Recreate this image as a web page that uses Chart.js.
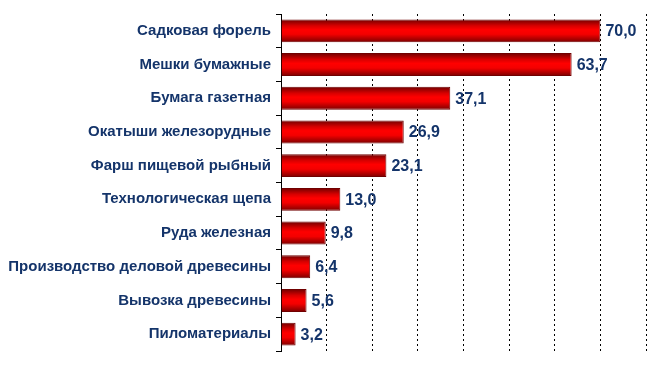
<!DOCTYPE html>
<html>
<head>
<meta charset="utf-8">
<script src="https://cdn.jsdelivr.net/npm/chart.js@4.4.0/dist/chart.umd.min.js"></script>
<style>
  html, body { margin: 0; padding: 0; background: #fff; }
  #wrap { width: 661px; height: 365px; }
</style>
</head>
<body>
<div id="wrap"><canvas id="chart-bars"></canvas></div>
<script>
const categories = [
  "Садковая форель",
  "Мешки бумажные",
  "Бумага газетная",
  "Окатыши железорудные",
  "Фарш пищевой рыбный",
  "Технологическая щепа",
  "Руда железная",
  "Производство деловой древесины",
  "Вывозка древесины",
  "Пиломатериалы",
];
const values = [70.0, 63.7, 37.1, 26.9, 23.1, 13.0, 9.8, 6.4, 5.6, 3.2];
const xMin = 0;
const xMax = 80;
const xStep = 10;

const navy = "#14346a";

// cylinder-like vertical gradient on each bar
const barShade = {
  id: "barShade",
  beforeDatasetsDraw(chart) {
    const ctx = chart.ctx;
    chart.getDatasetMeta(0).data.forEach((bar) => {
      const top = bar.y - bar.height / 2;
      const g = ctx.createLinearGradient(0, top, 0, top + bar.height);
      g.addColorStop(0, "#6e0000");
      g.addColorStop(0.28, "#d80000");
      g.addColorStop(0.45, "#ff0000");
      g.addColorStop(0.65, "#f40000");
      g.addColorStop(1, "#7a0000");
      bar.options.backgroundColor = g;
    });
  },
};

// value labels at the bar ends
const valueLabels = {
  id: "valueLabels",
  afterDatasetsDraw(chart) {
    const ctx = chart.ctx;
    ctx.save();
    ctx.font = "bold 16px 'Liberation Sans', Arial, sans-serif";
    ctx.fillStyle = navy;
    ctx.textAlign = "left";
    ctx.textBaseline = "middle";
    chart.getDatasetMeta(0).data.forEach((bar, i) => {
      ctx.fillText(values[i].toFixed(1).replace(".", ","), bar.x + 5, bar.y + 1);
    });
    ctx.restore();
  },
};

const ctx = document.getElementById("chart-bars").getContext("2d");
const myChart = new Chart(ctx, {
  type: "bar",
  data: {
    labels: categories,
    datasets: [
      {
        data: values,
        // scriptable so each bar keeps its own options object
        backgroundColor: () => "#e00000",
        borderColor: "#700000",
        borderWidth: 1,
        borderSkipped: "start",
        categoryPercentage: 1,
        barPercentage: 0.68,
      },
    ],
  },
  options: {
    indexAxis: "y",
    responsive: true,
    maintainAspectRatio: false,
    animation: false,
    layout: { padding: { left: 0, right: 15, top: 12, bottom: 12 } },
    plugins: {
      legend: { display: false },
      tooltip: { enabled: false },
    },
    scales: {
      x: {
        min: xMin,
        max: xMax,
        ticks: { display: false, stepSize: xStep },
        grid: {
          color: (c) => (c.tick && c.tick.value === 0 ? "rgba(0,0,0,0)" : "#000"),
          lineWidth: 1,
          drawTicks: false,
        },
        border: { display: false, dash: [2, 3] },
      },
      y: {
        afterFit(scale) {
          scale.width = 281;
        },
        ticks: {
          color: navy,
          font: { family: "'Liberation Sans', Arial, sans-serif", size: 15, weight: "bold" },
          padding: 5,
        },
        grid: {
          offset: true,
          drawOnChartArea: false,
          drawTicks: true,
          tickLength: 5,
          color: "#000",
        },
        border: { display: true, color: "#000", width: 1 },
      },
    },
  },
  plugins: [barShade, valueLabels],
});
</script>
</body>
</html>
